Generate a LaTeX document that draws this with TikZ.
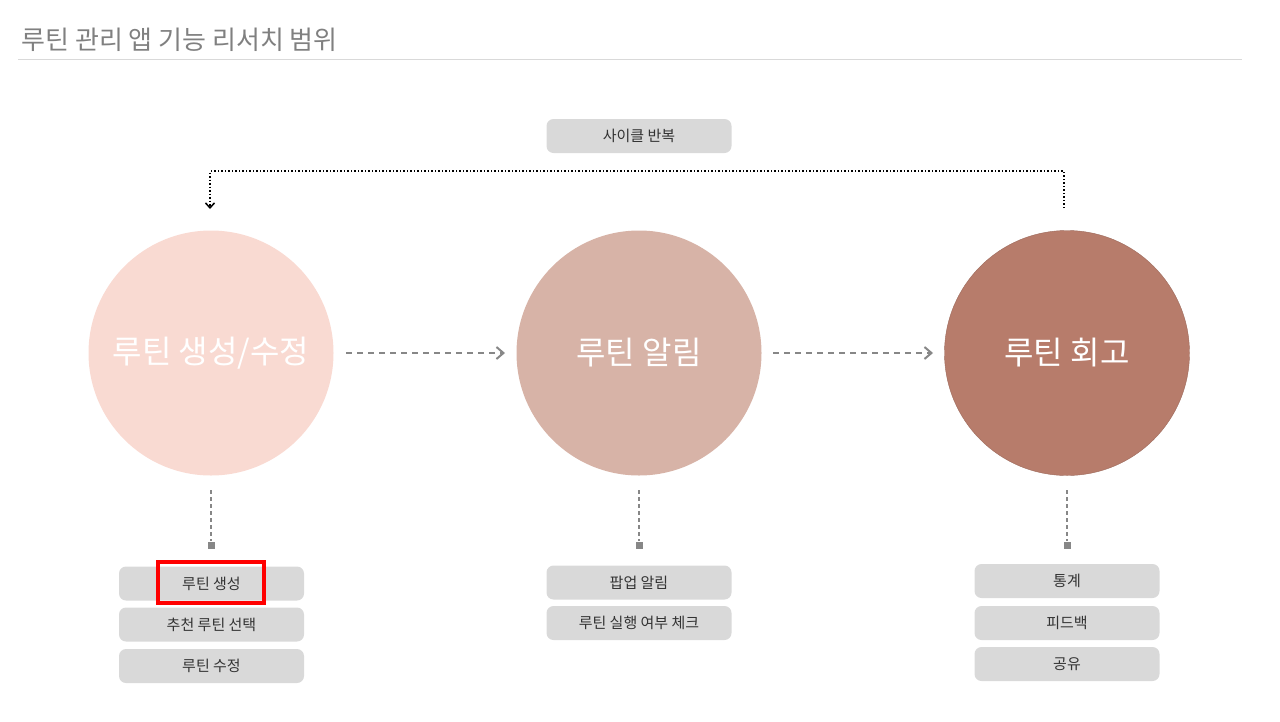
\documentclass[tikz,border=0pt]{standalone}
\usepackage{fontspec}
\setmainfont{Noto Sans CJK KR}
\usetikzlibrary{arrows.meta}
\definecolor{boxg}{HTML}{D9D9D9}
\definecolor{c1}{HTML}{F9DAD2}
\definecolor{c2}{HTML}{D7B3A7}
\definecolor{c3}{HTML}{B77C6B}
\definecolor{lineg}{HTML}{878787}
\tikzset{
 item/.style={fill=boxg,rounded corners=7pt,minimum width=185pt,minimum height=34pt,inner sep=0pt,font=\fontsize{15}{15}\selectfont,text=black!80},
 circ/.style={circle,minimum size=245pt,inner sep=0pt,text=white,font=\fontsize{32}{32}\selectfont},
 flow/.style={lineg,line width=2pt,dash pattern=on 6pt off 5pt,-{Straight Barb[length=7pt,width=12pt]}},
 drop/.style={lineg,line width=1.5pt,dash pattern=on 4pt off 3pt},
 mk/.style={fill=lineg,minimum size=7pt,inner sep=0pt}
}
\begin{document}
\begin{tikzpicture}[x=1pt,y=-1pt]
\useasboundingbox (0,0) rectangle (1280,721);
\node[anchor=west,text=gray,font=\fontsize{26}{26}\selectfont] (title) at (18,40) {루틴 관리 앱 기능 리서치 범위};
\draw[boxg,line width=1pt] (18,59) coordinate (l1) -- (1242,59) coordinate (l2);
\node[item] (cyc) at (639,136) {사이클 반복};
\node[circ,fill=c1] (a) at (211,353) {루틴 생성/수정};
\node[circ,fill=c2] (b) at (639,353) {루틴 알림};
\node[circ,fill=c3,draw=c3!85!black] (c) at (1067,353) {루틴 회고};
\coordinate (cs) at (1064,208);
\coordinate (ce) at (210,209);
\draw[black,line width=1.5pt,dotted,-{Straight Barb[length=5pt,width=9pt]}] (cs) -- (1064,171) -- (210,171) -- (ce);
\draw[flow] (346,353) -- (505,353);
\draw[flow] (773,353) -- (933,353);
\foreach \x/\n in {211/ma,639/mb,1067/mc}{
 \node[mk] (\n) at (\x,545) {};
 \draw[drop] (\x,490) -- (\n);
}
\node[item] (a1) at (211.5,583.5) {루틴 생성};
\node[item] (a2) at (211.5,624.5) {추천 루틴 선택};
\node[item] (a3) at (211.5,666) {루틴 수정};
\node[item] (b1) at (639,582.5) {팝업 알림};
\node[item] (b2) at (639,623) {루틴 실행 여부 체크};
\node[item] (c1n) at (1067,581) {통계};
\node[item] (c2n) at (1067,623) {피드백};
\node[item] (c3n) at (1067,664) {공유};
\draw[red,line width=4pt] (158,562) rectangle (264,603);
\end{tikzpicture}
\end{document}
